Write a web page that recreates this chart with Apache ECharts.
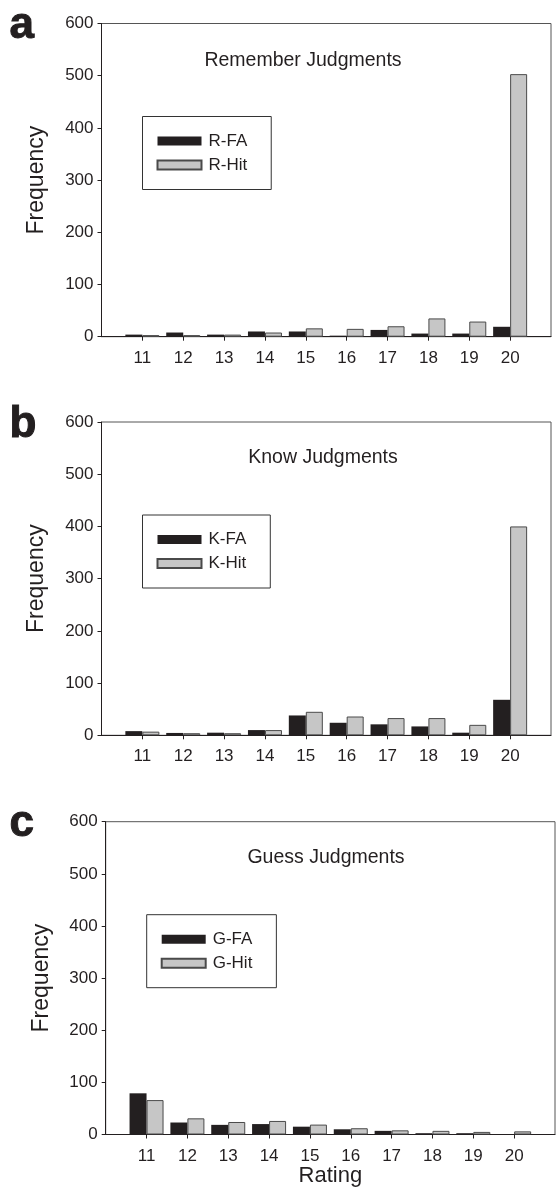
<!DOCTYPE html>
<html>
<head>
<meta charset="utf-8">
<script src="https://cdn.jsdelivr.net/npm/echarts@6/dist/echarts.min.js"></script>
<style>
  html, body { margin: 0; padding: 0; background: #fff; }
  #chart { width: 557px; height: 1192px; }
</style>
</head>
<body>
<div id="chart"></div>
<script>
// Confidence-rating histograms for remember / know / guess judgments
const ratings = [11, 12, 13, 14, 15, 16, 17, 18, 19, 20];
const yTicks = [0, 100, 200, 300, 400, 500, 600];

const rememberFA  = [4, 8, 4, 10, 10, 2, 13, 6, 6, 19];
const rememberHit = [3, 3, 4, 8, 16, 15, 20, 35, 29, 503];
const knowFA      = [8, 4.5, 5, 10, 38, 24, 21, 17, 5, 68];
const knowHit     = [7, 4, 4, 10, 45, 36, 33, 33, 20, 400];
const guessFA     = [79, 23, 18.5, 20, 15, 10, 7, 2.5, 2.5, 0];
const guessHit    = [66, 31, 24, 26, 19, 12, 8, 7, 5, 6];

const panelLetters = ['a', 'b', 'c'];
const panelTitles  = ['Remember Judgments', 'Know Judgments', 'Guess Judgments'];
const seriesNames  = [['R-FA', 'R-Hit'], ['K-FA', 'K-Hit'], ['G-FA', 'G-Hit']];
const panelValues  = [[rememberFA, rememberHit], [knowFA, knowHit], [guessFA, guessHit]];

// plot-area boxes (px) and title anchors
const boxes = [
  { left: 101.5, top: 23.5,  width: 449.5, height: 313.2, titleX: 303, titleY: 60 },
  { left: 101.5, top: 422,   width: 449.5, height: 313.3, titleX: 323, titleY: 457 },
  { left: 105.7, top: 821.7, width: 449.3, height: 312.8, titleX: 326, titleY: 857 }
];

const FONT = '"Liberation Sans", Arial, Helvetica, sans-serif';
const INK = '#231f20';
const FA_COLOR = '#231f20';
const HIT_COLOR = '#c6c6c6';

const grids = [], xAxes = [], yAxes = [], series = [], legends = [], graphics = [];

boxes.forEach((b, p) => {
  grids.push({
    left: b.left, top: b.top, width: b.width, height: b.height,
    show: true, borderColor: '#555', borderWidth: 1, backgroundColor: 'transparent'
  });

  xAxes.push({
    gridIndex: p, type: 'value', min: 10, max: 21, interval: 1,
    axisLine: { show: true, onZero: false, lineStyle: { color: INK, width: 1 } },
    axisTick: { show: true, inside: false, length: 4, customValues: ratings, lineStyle: { color: INK } },
    axisLabel: {
      show: true, customValues: ratings, margin: 13,
      fontFamily: FONT, fontSize: 17, color: INK,
      formatter: v => (ratings.indexOf(v) >= 0 ? String(v) : '')
    },
    splitLine: { show: false },
    name: p === 2 ? 'Rating' : '',
    nameLocation: 'middle', nameGap: 23,
    nameTextStyle: { fontFamily: FONT, fontSize: 22, color: INK }
  });

  yAxes.push({
    gridIndex: p, type: 'value', min: yTicks[0], max: yTicks[yTicks.length - 1], interval: 100,
    axisLine: { show: true, lineStyle: { color: INK, width: 1 } },
    axisTick: { show: true, inside: false, length: 4, lineStyle: { color: INK } },
    axisLabel: { margin: 8, fontFamily: FONT, fontSize: 17, color: INK },
    splitLine: { show: false },
    name: 'Frequency', nameLocation: 'middle', nameGap: 53, nameRotate: 90,
    nameTextStyle: { fontFamily: FONT, fontSize: 23, color: INK }
  });

  const [faVals, hitVals] = panelValues[p];
  series.push({
    name: seriesNames[p][0], type: 'bar', xAxisIndex: p, yAxisIndex: p,
    barWidth: 17, barGap: '0%',
    itemStyle: { color: FA_COLOR, borderColor: FA_COLOR, borderWidth: 0 },
    data: ratings.map((r, i) => [r, faVals[i]])
  });
  series.push({
    name: seriesNames[p][1], type: 'bar', xAxisIndex: p, yAxisIndex: p,
    barWidth: 17, barGap: '0%',
    itemStyle: { color: HIT_COLOR, borderColor: '#4a4a4a', borderWidth: 1 },
    data: ratings.map((r, i) => [r, hitVals[i]])
  });

  legends.push({
    data: seriesNames[p], orient: 'vertical',
    left: b.left + 41, top: b.top + 93,
    icon: 'rect', itemWidth: 44, itemHeight: 9, itemGap: 7,
    padding: [16, 24, 16, 14],
    borderColor: '#333', borderWidth: 1, backgroundColor: '#fff',
    selectedMode: false,
    textStyle: { fontFamily: FONT, fontSize: 17, color: INK, lineHeight: 17, padding: [0, 0, 0, 2] }
  });

  graphics.push({
    type: 'text', left: 9, top: b.top - 20,
    style: { text: panelLetters[p], font: 'bold 44px ' + FONT, fill: INK, stroke: INK, lineWidth: 1 }
  });
  graphics.push({
    type: 'text', x: b.titleX, y: b.titleY + 1,
    style: {
      text: panelTitles[p], font: '19.5px ' + FONT, fill: INK,
      textAlign: 'center', textVerticalAlign: 'middle'
    }
  });
});

const chart = echarts.init(document.getElementById('chart'), null, { renderer: 'canvas' });
chart.setOption({
  animation: false,
  backgroundColor: '#fff',
  grid: grids,
  xAxis: xAxes,
  yAxis: yAxes,
  legend: legends,
  series: series,
  graphic: graphics
});
</script>
</body>
</html>
